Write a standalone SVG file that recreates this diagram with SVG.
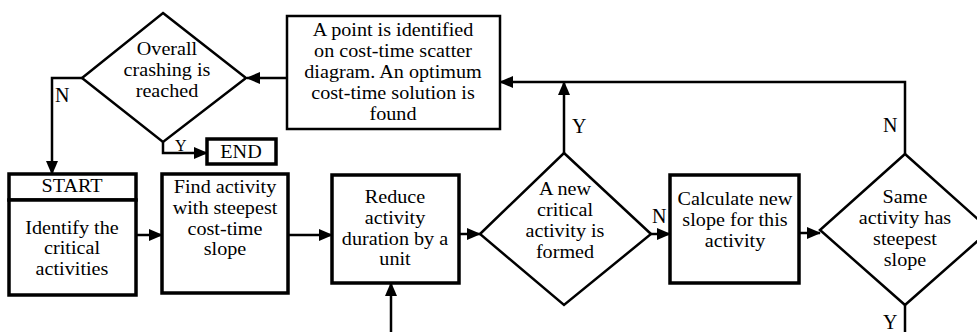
<svg xmlns="http://www.w3.org/2000/svg" width="977" height="332" viewBox="0 0 977 332">
<defs>
<marker id="arr" markerUnits="userSpaceOnUse" markerWidth="14" markerHeight="12" refX="13" refY="6" orient="auto">
<path d="M0,0 L14,6 L0,12 Z" fill="#000"/>
</marker>
<style>
.box{fill:#fff;stroke:#000;stroke-width:2.5}
.thick{fill:#fff;stroke:#000;stroke-width:3.5}
.dia{fill:#fff;stroke:#000;stroke-width:2.5}
.con{fill:none;stroke:#000;stroke-width:2.5}
.arw{marker-end:url(#arr)}
text{font-family:"Liberation Serif","DejaVu Serif","Times New Roman",serif;font-size:18px;fill:#000;text-anchor:middle}
.lbl{text-anchor:start;font-size:20px}
.sm{font-size:16px}
</style>
</defs>
<rect width="977" height="332" fill="#fff"/>
<g id="connectors">
<polyline class="con arw" points="287,78 247,78"/>
<polyline class="con arw" points="82,78 52,78 52,174"/>
<polyline class="con arw" points="163,142 163,153 207,153"/>
<polyline class="con arw" points="136,235 162,235"/>
<polyline class="con arw" points="288,235 332,235"/>
<polyline class="con arw" points="391,332 391,283"/>
<polyline class="con arw" points="459,234 480,234"/>
<polyline class="con arw" points="564,153 564,82"/>
<polyline class="con arw" points="651,234 670,234"/>
<polyline class="con arw" points="799,233 820,233"/>
<polyline class="con arw" points="905,154 905,82 500,82"/>
<polyline class="con" points="905,305 905,332"/>
<text class="lbl" x="55" y="102" font-family="Liberation Serif, serif">N</text>
<text class="lbl sm" x="175" y="151" font-family="Liberation Serif, serif">Y</text>
<text class="lbl" x="572" y="133" font-family="Liberation Serif, serif">Y</text>
<text class="lbl" x="652" y="223" font-family="Liberation Serif, serif">N</text>
<text class="lbl" x="883" y="132" font-family="Liberation Serif, serif">N</text>
<text class="lbl" x="883" y="329" font-family="Liberation Serif, serif">Y</text>
</g>
<g id="overall">
<polygon class="dia" points="163,13 246,78 163,142 82,78"/>
<g transform="translate(167,0) scale(1.12,1)" font-family="Liberation Serif, serif">
<text x="0" y="55">Overall</text>
<text x="0" y="76">crashing is</text>
<text x="0" y="97">reached</text>
</g>
</g>
<g id="point">
<rect class="box" x="287" y="16" width="213" height="113"/>
<g transform="translate(393,0) scale(1.12,1)" font-family="Liberation Serif, serif">
<text x="0" y="36">A point is identified</text>
<text x="0" y="57">on cost-time scatter</text>
<text x="0" y="78">diagram. An optimum</text>
<text x="0" y="99">cost-time solution is</text>
<text x="0" y="120">found</text>
</g>
</g>
<g id="end">
<rect class="thick" x="207" y="139" width="69" height="25"/>
<g transform="translate(241,0) scale(1.12,1)" font-family="Liberation Serif, serif">
<text x="0" y="158">END</text>
</g>
</g>
<g id="start">
<rect class="thick" x="9" y="174" width="127" height="26"/>
<g transform="translate(72,0) scale(1.12,1)" font-family="Liberation Serif, serif">
<text x="0" y="192">START</text>
</g>
</g>
<g id="identify">
<rect class="thick" x="9" y="200" width="127" height="95"/>
<g transform="translate(72,0) scale(1.12,1)" font-family="Liberation Serif, serif">
<text x="0" y="234">Identify the</text>
<text x="0" y="254">critical</text>
<text x="0" y="275">activities</text>
</g>
</g>
<g id="find">
<rect class="thick" x="162" y="174" width="126" height="119"/>
<g transform="translate(225,0) scale(1.12,1)" font-family="Liberation Serif, serif">
<text x="0" y="193">Find activity</text>
<text x="0" y="214">with steepest</text>
<text x="0" y="235">cost-time</text>
<text x="0" y="255">slope</text>
</g>
</g>
<g id="reduce">
<rect class="thick" x="332" y="175" width="127" height="108"/>
<g transform="translate(395,0) scale(1.12,1)" font-family="Liberation Serif, serif">
<text x="0" y="203">Reduce</text>
<text x="0" y="224">activity</text>
<text x="0" y="245">duration by a</text>
<text x="0" y="265">unit</text>
</g>
</g>
<g id="newcritical">
<polygon class="dia" points="564,153 651,234 564,305 480,234"/>
<g transform="translate(565,0) scale(1.12,1)" font-family="Liberation Serif, serif">
<text x="0" y="195">A new</text>
<text x="0" y="216">critical</text>
<text x="0" y="237">activity is</text>
<text x="0" y="258">formed</text>
</g>
</g>
<g id="calculate">
<rect class="thick" x="670" y="175" width="129" height="108"/>
<g transform="translate(735,0) scale(1.12,1)" font-family="Liberation Serif, serif">
<text x="0" y="205">Calculate new</text>
<text x="0" y="226">slope for this</text>
<text x="0" y="247">activity</text>
</g>
</g>
<g id="same">
<polygon class="dia" points="905,154 990,230 905,305 820,230"/>
<g transform="translate(905,0) scale(1.12,1)" font-family="Liberation Serif, serif">
<text x="0" y="203">Same</text>
<text x="0" y="224">activity has</text>
<text x="0" y="245">steepest</text>
<text x="0" y="266">slope</text>
</g>
</g>
</svg>
